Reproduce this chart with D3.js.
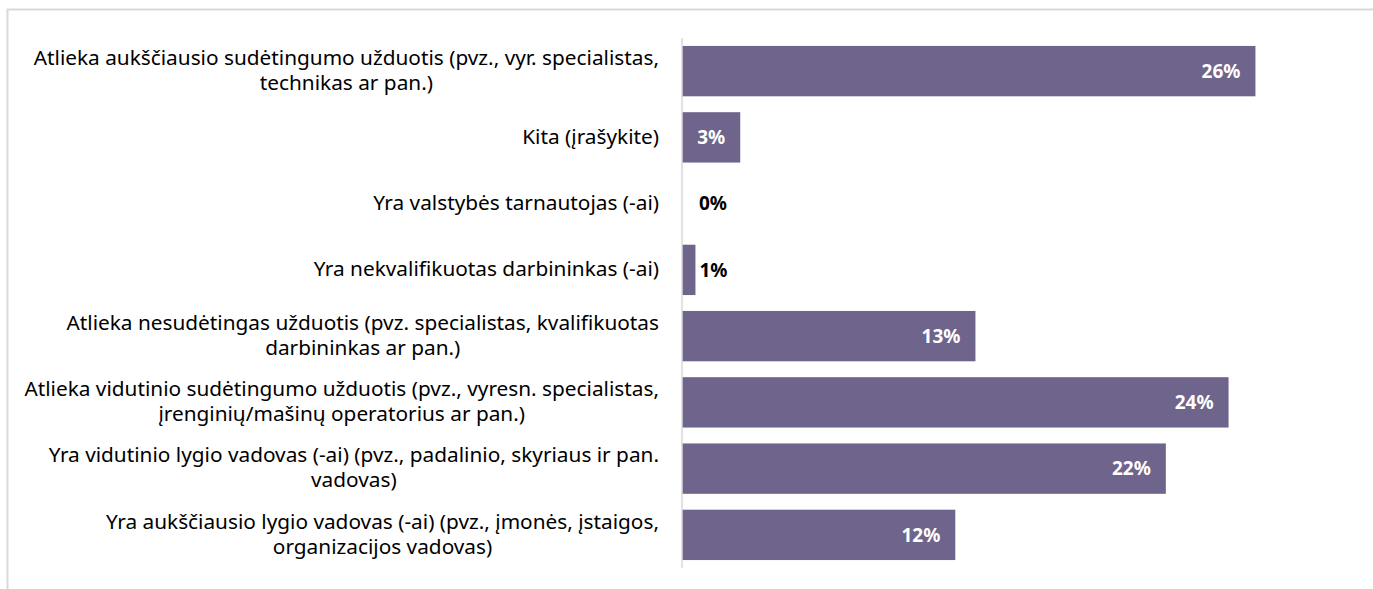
<!DOCTYPE html>
<html>
<head>
<meta charset="utf-8">
<script src="https://cdn.jsdelivr.net/npm/d3@7"></script>
<style>
	body { margin: 0; background: #fff; }
	svg { display: block; }
</style>
</head>
<body>
<svg id="bar-plot" width="1373" height="589" viewBox="0 0 1373 589"></svg>
<script>

// categories top to bottom, each split in the lines shown on the chart
const categories = [
	["Atlieka aukščiausio sudėtingumo užduotis (pvz., vyr. specialistas,", "technikas ar pan.)"],
	["Kita (įrašykite)"],
	["Yra valstybės tarnautojas (-ai)"],
	["Yra nekvalifikuotas darbininkas (-ai)"],
	["Atlieka nesudėtingas užduotis (pvz. specialistas, kvalifikuotas", "darbininkas ar pan.)"],
	["Atlieka vidutinio sudėtingumo užduotis (pvz., vyresn. specialistas,", "įrenginių/mašinų operatorius ar pan.)"],
	["Yra vidutinio lygio vadovas (-ai) (pvz., padalinio, skyriaus ir pan.", "vadovas)"],
	["Yra aukščiausio lygio vadovas (-ai) (pvz., įmonės, įstaigos,", "organizacijos vadovas)"]
];

// share of respondents, %
const values = [25.6, 2.6, 0, 0.6, 13.1, 24.4, 21.6, 12.2];

const x_domain = [0, 30];

function drawChart(svg_element_id) {
	const svg = d3.select('#' + svg_element_id);
	const font = "'Noto Sans', 'Open Sans', sans-serif";

	// chart area frame
	svg.append("rect")
		.attr("x", 7.5).attr("y", 9.5)
		.attr("width", 1400).attr("height", 700)
		.attr("fill", "none")
		.attr("stroke", "#d9d9d9")
		.attr("stroke-width", 2);

	const x = d3.scaleLinear()
		.domain(x_domain)
		.range([682, 1354]);

	const y = d3.scaleBand()
		.domain(d3.range(categories.length))
		.range([38, 568])
		.paddingInner(0.24)
		.paddingOuter(0.12);

	// bars
	svg.append("g").selectAll("rect")
		.data(values)
		.enter()
		.append("rect")
		.attr("x", x(0))
		.attr("y", (d, i) => y(i))
		.attr("width", d => x(d) - x(0))
		.attr("height", y.bandwidth())
		.attr("fill", "#6f648b");

	// vertical axis line
	svg.append("line")
		.attr("x1", x(0)).attr("x2", x(0))
		.attr("y1", 38).attr("y2", 568)
		.attr("stroke", "#d9d9d9")
		.attr("stroke-width", 1.5);

	// category labels, block right aligned, lines centred in the block
	const label_right = 659;
	const line_h = 25;
	const labels = svg.append("g")
		.attr("font-family", font)
		.attr("font-size", "20.8px")
		.attr("fill", "#000");

	categories.forEach((lines, i) => {
		const g = labels.append("g");
		const cy = y(i) + y.bandwidth() / 2;
		const texts = lines.map((ln, j) => g.append("text")
			.attr("y", cy + (j - (lines.length - 1) / 2) * line_h - 1)
			.attr("dy", "0.35em")
			.attr("text-anchor", "middle")
			.text(ln));
		const w = d3.max(texts, t => t.node().getComputedTextLength());
		texts.forEach(t => t.attr("x", label_right - w / 2));
	});

	// value labels: inside end in white, outside end in black if the bar is too short
	const vals = svg.append("g")
		.attr("font-family", font)
		.attr("font-size", "19px")
		.attr("font-weight", "bold");

	values.forEach((v, i) => {
		const t = vals.append("text")
			.attr("y", y(i) + y.bandwidth() / 2)
			.attr("dy", "0.35em")
			.text(Math.round(v) + "%");
		const tw = t.node().getComputedTextLength();
		const bw = x(v) - x(0);
		if (bw > tw + 20) {
			t.attr("x", x(v) - 15).attr("text-anchor", "end").attr("fill", "#fff");
		} else {
			t.attr("x", Math.max(x(v) + 4, x(0) + 17)).attr("text-anchor", "start").attr("fill", "#000");
		}
	});
}

function whenDocumentLoaded(action) {
	if (document.readyState === "loading") {
		document.addEventListener("DOMContentLoaded", action);
	} else {
		action();
	}
}

whenDocumentLoaded(() => {
	drawChart('bar-plot');
});
</script>
</body>
</html>
